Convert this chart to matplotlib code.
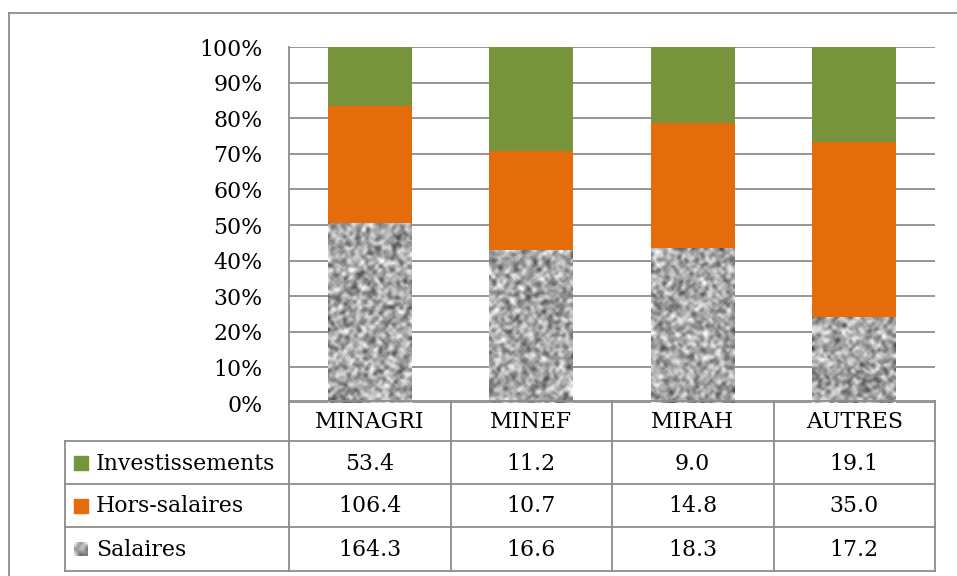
import matplotlib.pyplot as plt
import matplotlib.patches as mpatches
import numpy as np

# budget by ministry (values shown in the table)
categories = ['MINAGRI', 'MINEF', 'MIRAH', 'AUTRES']
salaires = [164.3, 16.6, 18.3, 17.2]
hors_salaires = [106.4, 10.7, 14.8, 35.0]
investissements = [53.4, 11.2, 9.0, 19.1]

series_names = ['Investissements', 'Hors-salaires', 'Salaires']
series_values = [investissements, hors_salaires, salaires]
yticks = [0, 10, 20, 30, 40, 50, 60, 70, 80, 90, 100]

GREEN = '#77933c'
ORANGE = '#e46c0a'
GRID = '#8c8c8c'
FONT = 'DejaVu Serif'
FS = 15.8

W, H = 957, 576
fig = plt.figure(figsize=(W / 100, H / 100), dpi=100)


def px_box(x0, y0, x1, y1):
    # pixel box (top-left origin) -> figure fraction rect
    return [x0 / W, 1 - y1 / H, (x1 - x0) / W, (y1 - y0) / H]


def granite(shape, rng):
    # grey speckle texture for the salaries segment
    a = rng.random(shape)
    pad = np.pad(a, 1, mode='edge')
    out = np.zeros_like(a)
    for i in range(3):
        for j in range(3):
            w = 0.25 if (i == 1 and j == 1) else 0.75 / 8
            out += w * pad[i:i + shape[0], j:j + shape[1]]
    return out


ax = fig.add_axes(px_box(289, 47, 935, 403))
ax.set_xlim(0, len(categories))
ax.set_ylim(0, 1)

totals = np.array(salaires) + np.array(hors_salaires) + np.array(investissements)
sal_p = np.array(salaires) / totals
hors_p = np.array(hors_salaires) / totals
inv_p = np.array(investissements) / totals
x = np.arange(len(categories)) + 0.5
bw = 0.52

rng = np.random.default_rng(3)
sal_bars = ax.bar(x, sal_p, bw, color='#b4b4b4', zorder=3)
for b in sal_bars:
    tex = granite((int(b.get_height() * 200) + 2, 48), rng)
    im = ax.imshow(tex, cmap='gray', vmin=-0.08, vmax=0.8, aspect='auto',
                   extent=(b.get_x(), b.get_x() + b.get_width(), 0, b.get_height()),
                   zorder=3.5, interpolation='bilinear')
    im.set_clip_path(b)
ax.bar(x, hors_p, bw, bottom=sal_p, color=ORANGE, zorder=3)
ax.bar(x, inv_p, bw, bottom=sal_p + hors_p, color=GREEN, zorder=3)

ax.set_yticks([t / 100 for t in yticks])
ax.set_yticklabels([f'{t}%' for t in yticks], fontname=FONT, fontsize=FS)
ax.tick_params(axis='y', length=0, pad=19)
ax.set_xticks([])
ax.yaxis.grid(True, color=GRID, linewidth=1.3, zorder=0)
ax.set_axisbelow(True)
for s in ['top', 'right', 'bottom']:
    ax.spines[s].set_visible(False)
ax.spines['left'].set_color(GRID)
ax.spines['left'].set_linewidth(1.3)

# data table under the plot
tx0, tx1 = 65, 935
col0 = 289
rows = [401, 441, 484, 527, 571]
tab = fig.add_axes([0, 0, 1, 1])
tab.set_xlim(0, W)
tab.set_ylim(H, 0)
tab.axis('off')
lw = 1.3
ncol = len(categories)
cw = (tx1 - col0) / ncol

# horizontal rules
tab.plot([col0, tx1], [rows[0], rows[0]], color=GRID, lw=lw)
for r in rows[1:]:
    tab.plot([tx0, tx1], [r, r], color=GRID, lw=lw)
# vertical rules
tab.plot([tx0, tx0], [rows[1], rows[-1]], color=GRID, lw=lw)
for i in range(ncol + 1):
    xc = col0 + i * cw
    tab.plot([xc, xc], [rows[0], rows[-1]], color=GRID, lw=lw)

for i, c in enumerate(categories):
    tab.text(col0 + (i + 0.5) * cw, (rows[0] + rows[1]) / 2 + 1, c, ha='center', va='center',
             fontname=FONT, fontsize=FS)

key_colors = [GREEN, ORANGE, None]
for r, (name, vals) in enumerate(zip(series_names, series_values)):
    yc = (rows[r + 1] + rows[r + 2]) / 2
    if key_colors[r] is not None:
        tab.add_patch(mpatches.Rectangle((74, yc - 7), 14, 14, color=key_colors[r]))
    else:
        tab.imshow(granite((5, 5), rng), cmap='gray', vmin=0.0, vmax=0.85,
                   extent=(74, 88, yc + 7, yc - 7), interpolation='bilinear', zorder=2)
    tab.text(96, yc + 1, name, ha='left', va='center', fontname=FONT, fontsize=FS)
    for i, v in enumerate(vals):
        tab.text(col0 + (i + 0.5) * cw, yc + 1, f'{v:.1f}', ha='center', va='center',
                 fontname=FONT, fontsize=FS)

# outer frame
tab.plot([9, W], [13, 13], color=GRID, lw=lw)
tab.plot([9, 9], [13, H], color=GRID, lw=lw)
tab.set_xlim(0, W)
tab.set_ylim(H, 0)

fig.savefig('out.png', dpi=100)
